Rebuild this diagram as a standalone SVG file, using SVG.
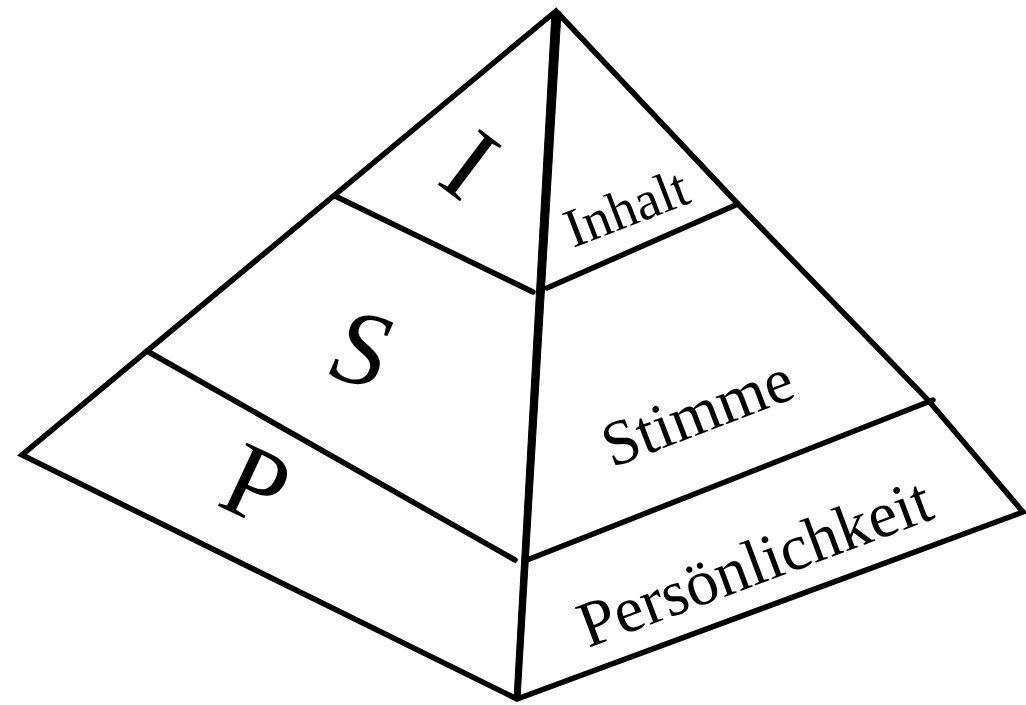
<svg xmlns="http://www.w3.org/2000/svg" width="1026" height="705" viewBox="0 0 1026 705">
  <style>
    .edge { fill: none; stroke: #000; stroke-width: 5.5; stroke-linejoin: miter; stroke-linecap: round; }
    .spine { fill: #000; stroke: #000; stroke-width: 1; }
    .big { font-family: "Liberation Serif", "Times New Roman", serif; font-size: 106px; fill: #000; text-anchor: middle; }
    .lbl { font-family: "Liberation Serif", "Times New Roman", serif; fill: #000; }
  </style>
  <rect width="1026" height="705" fill="#fff"/>
  <g id="connectors">
    <path class="edge" d="M556,11 L22,455 L517,699 L1023,512 L928,400 L738,204 Z"/>
    <polygon class="spine" points="552,12 561,12 520,699 514,699"/>
    <path class="edge" d="M335,196 L533,292"/>
    <path class="edge" d="M147,351 L515,560"/>
    <path class="edge" d="M547,288 L738,204"/>
    <path class="edge" d="M527,560 L933,400"/>
  </g>
  <g id="node-I">
    <text class="big" transform="translate(470,165) rotate(37)" y="35">I</text>
  </g>
  <g id="node-S">
    <text class="big" font-size="112" font-style="italic" transform="translate(362,346) rotate(14)" y="38">S</text>
  </g>
  <g id="node-P">
    <text class="big" transform="translate(256,485) rotate(25)" y="35">P</text>
  </g>
  <g id="node-Inhalt">
    <text class="lbl" font-size="55" transform="translate(573,248) rotate(-21)">Inhalt</text>
  </g>
  <g id="node-Stimme">
    <text class="lbl" font-size="64" transform="translate(612,468) rotate(-21)">Stimme</text>
  </g>
  <g id="node-Persoenlichkeit">
    <text class="lbl" font-size="65" transform="translate(588,648) rotate(-20.5)">Persönlichkeit</text>
  </g>
</svg>
